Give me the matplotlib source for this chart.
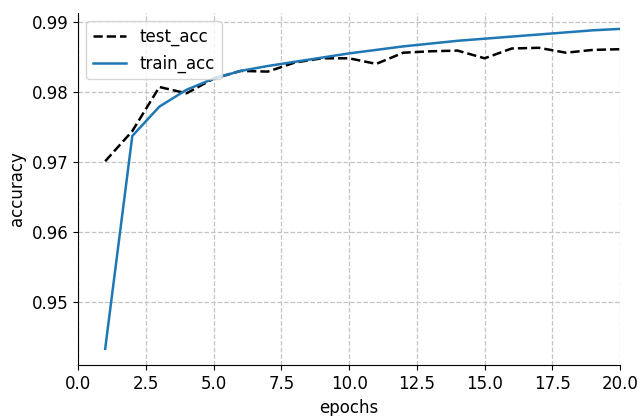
import matplotlib.pyplot as plt
import numpy as np
plt.rcParams['font.family'] = 'DejaVu Sans'

# data
epochs = np.arange(1, 21)
train_acc = [0.9433, 0.9737, 0.9779, 0.9803, 0.9819, 0.9830, 0.9837, 0.9843, 0.9849, 0.9855,
             0.9860, 0.9865, 0.9869, 0.9873, 0.9876, 0.9879, 0.9882, 0.9885, 0.9888, 0.9890]
test_acc = [0.9701, 0.9744, 0.9807, 0.9798, 0.9819, 0.9830, 0.9829, 0.9842, 0.9848, 0.9848,
            0.9840, 0.9856, 0.9858, 0.9859, 0.9848, 0.9862, 0.9863, 0.9856, 0.9860, 0.9861]

fig = plt.figure(figsize=(6.4, 4.16), dpi=100)
ax = fig.add_axes([0.122, 0.123, 0.847, 0.846])

ax.plot(epochs, test_acc, 'k--', linewidth=1.8, label='test_acc')
ax.plot(epochs, train_acc, color='#1f77b4', linewidth=1.8, label='train_acc')

ax.set_xlim(0, 20)
ax.set_xlabel('epochs', fontsize=12, labelpad=4.5)
ax.set_ylabel('accuracy', fontsize=12)
ax.tick_params(axis='both', labelsize=12)
ax.grid(True, linestyle='--', color='#c4c4c4', linewidth=0.9)
ax.spines['top'].set_visible(False)
ax.spines['right'].set_visible(False)
ax.legend(loc='upper left', fontsize=12)

plt.savefig('out.png')
